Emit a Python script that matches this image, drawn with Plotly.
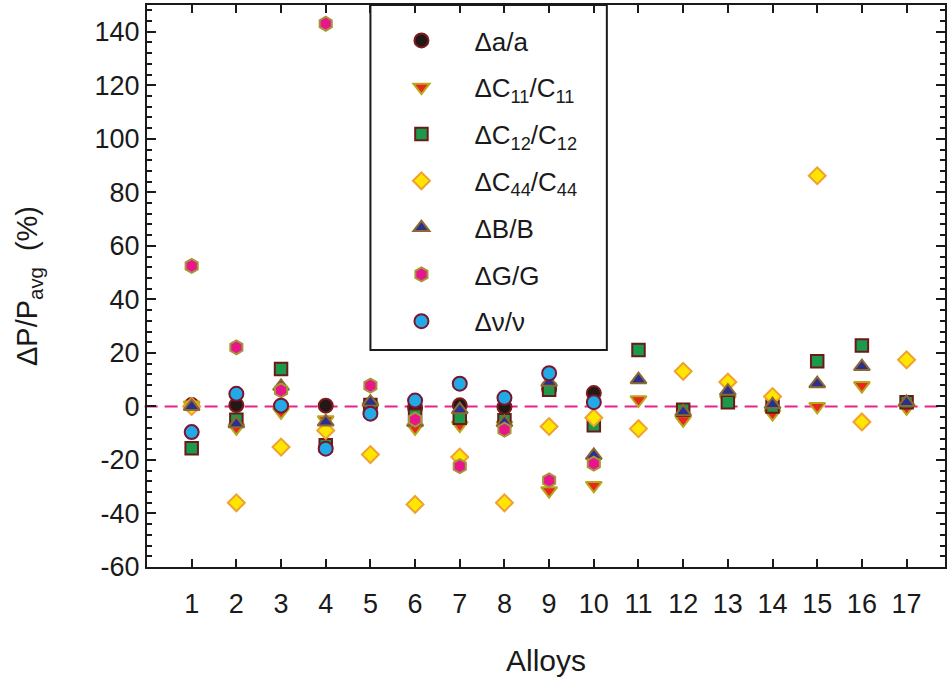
import plotly.graph_objects as go

alloys = list(range(1, 18))

# Values (%); None = not plotted
da_a = [0.5, 0.5, 0.0, 0.3, 0.4, -0.5, 0.4, -0.2, 6.5, 5.0,
        None, None, None, None, None, None, None]
dC11 = [0.5, -8.0, -2.0, -5.0, 0.0, -8.0, -7.0, -7.0, -31.5, -29.5,
        2.5, -5.0, 2.5, -2.7, 0.0, 7.8, -0.5]
dC12 = [-15.6, -5.0, 14.0, -14.5, 0.5, -3.5, -4.2, -5.2, 6.2, -7.0,
        21.1, -1.2, 1.6, 0.0, 16.9, 22.8, 1.6]
dC44 = [0.0, -36.0, -15.2, -9.0, -18.0, -36.6, -18.9, -36.0, -7.5, -4.2,
        -8.3, 13.1, 9.1, 3.7, 86.2, -5.8, 17.4]
dB = [0.0, -6.5, 7.5, -5.8, 1.6, -6.0, -1.2, -6.0, 9.0, -18.3,
      10.0, -2.0, 5.7, 0.7, 8.5, 14.9, 1.5]
dG = [52.5, 22.1, 6.0, 143.0, 7.8, -4.9, -22.3, -8.7, -27.6, -21.4,
      None, None, None, None, None, None, None]
dnu = [-9.6, 4.7, 0.3, -15.8, -2.7, 2.2, 8.5, 3.2, 12.4, 1.6,
       None, None, None, None, None, None, None]

y_ticks = [-60, -40, -20, 0, 20, 40, 60, 80, 100, 120, 140]
y_ticktext = [str(v) for v in y_ticks]  # plain hyphen minus, as in the reference

series = [
    ("\u0394a/a", da_a, "circle", 14, "#231815", "#7b1d1d"),
    ("\u0394C<sub>11</sub>/C<sub>11</sub>", dC11, "triangle-down", 14, "#e8281e", "#b8a818"),
    ("\u0394C<sub>12</sub>/C<sub>12</sub>", dC12, "square", 12.5, "#1a9a4a", "#6b1a1a"),
    ("\u0394C<sub>44</sub>/C<sub>44</sub>", dC44, "diamond", 13, "#ffe600", "#f0a030"),
    ("\u0394B/B", dB, "triangle-up", 14, "#2b2f8f", "#8b6a30"),
    ("\u0394G/G", dG, "hexagon", 14, "#e8158c", "#a8943a"),
    ("\u0394\u03bd/\u03bd", dnu, "circle", 14, "#22aae6", "#7a1530"),
]

fig = go.Figure()
for i, (name, vals, sym, sz, fill, edge) in enumerate(series):
    fig.add_trace(go.Scatter(
        x=alloys, y=vals, mode="markers", name=name,
        legendgroup="g%d" % i,
        marker=dict(symbol=sym, size=sz, color=fill,
                    line=dict(color=edge, width=2)),
    ))

W, H = 948, 683
L, R, T, B = 147, 1, 5, 116
pw, ph = W - L - R, H - T - B

def px_x(x):
    return (x - L) / pw

def px_y(y):
    return (H - B - y) / ph

fig.add_shape(type="line", xref="paper", yref="y", x0=-0.003, x1=1, y0=0, y1=0,
              line=dict(color="#e8218c", width=2, dash="13px,7px"), layer="below")
fig.add_shape(type="rect", xref="paper", yref="paper",
              x0=px_x(371), x1=px_x(608), y0=px_y(350), y1=px_y(5),
              line=dict(color="#1a1a1a", width=2), fillcolor="rgba(0,0,0,0)")

fig.update_layout(
    width=W, height=H,
    margin=dict(l=L, r=R, t=T, b=B),
    paper_bgcolor="white", plot_bgcolor="white",
    font=dict(family="Liberation Sans, Arial, sans-serif", color="#1a1a1a"),
    showlegend=True,
    legend=dict(x=px_x(369), xanchor="left", y=px_y(17), yanchor="top",
                bgcolor="rgba(0,0,0,0)", borderwidth=0,
                font=dict(size=26, family="Liberation Sans, Arial, sans-serif"),
                itemwidth=96, tracegroupgap=10, traceorder="grouped"),
    xaxis=dict(range=[0, 17.86], tickmode="array", tickvals=alloys,
               ticktext=[str(a) for a in alloys],
               ticks="inside", ticklen=8, tickwidth=2, tickcolor="#1a1a1a",
               showline=True, linewidth=2, linecolor="#1a1a1a", mirror="ticks",
               showgrid=False, zeroline=False, ticklabelstandoff=12,
               tickfont=dict(size=27, family="Liberation Sans Narrow, Arial Narrow, Liberation Sans, Arial"),
               title=dict(text="Alloys", standoff=32,
                          font=dict(size=30, family="Liberation Sans Narrow, Arial Narrow, Liberation Sans, Arial"))),
    yaxis=dict(range=[-60, 150], tickmode="array",
               tickvals=y_ticks, ticktext=y_ticktext,
               ticks="inside", ticklen=9, tickwidth=2, tickcolor="#1a1a1a",
               minor=dict(dtick=4, tick0=0, ticks="inside", ticklen=5, tickwidth=1.5,
                          tickcolor="#1a1a1a", showgrid=False),
               showline=True, linewidth=2, linecolor="#1a1a1a", mirror="ticks",
               showgrid=False, zeroline=False,
               tickfont=dict(size=27),
               title=dict(text="\u0394P/P<sub>avg</sub>\u00a0\u00a0(%)", standoff=48,
                          font=dict(size=29))),
)

fig.write_html("out.html")
